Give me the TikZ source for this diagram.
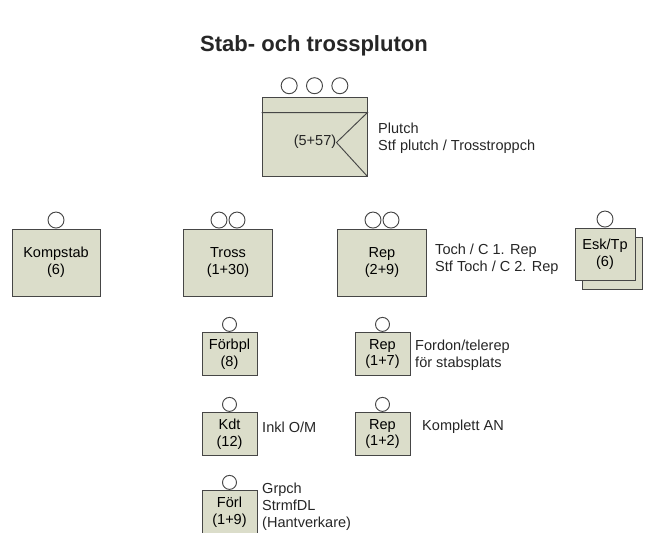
\documentclass[tikz,border=0pt]{standalone}
\usepackage{fontspec}
\setmainfont{Liberation Sans}
\usepackage{xcolor}
\usepackage{tikz}
\usetikzlibrary{positioning, calc}
\definecolor{unitfill}{RGB}{219,221,202}
\definecolor{unitline}{RGB}{70,70,70}

\begin{document}
\begin{tikzpicture}[
  x=0.03cm, y=-0.03cm,
  unit/.style={rectangle, draw=unitline, line width=0.8pt, fill=unitfill,
               minimum width=2.67cm, minimum height=2.01cm,
               font=\fontsize{12.4}{14.5}\selectfont, align=center, inner sep=2pt},
  small/.style={unit, minimum width=1.65cm, minimum height=1.3cm},
  ring/.style={circle, draw=unitline, line width=0.8pt, fill=white,
               minimum size=0.48cm, inner sep=0pt},
  sring/.style={ring, minimum size=0.42cm},
  note/.style={anchor=west, align=left, inner sep=0pt,
               font=\fontsize{12.4}{14.5}\selectfont, text=black!85},
]
\useasboundingbox (0,0) rectangle (649,532);

\node[font=\fontsize{18.8}{22}\selectfont\bfseries, text=black!85] (title) at (314,46)
  {Stab- och trosspluton};

% --- Plutch ---
\node[unit, minimum width=3.15cm, minimum height=2.37cm] (plutch) at (314.5,136.5) {};
\draw[unitline, line width=0.8pt] ($(plutch.north west)+(0,16)$) -- ($(plutch.north east)+(0,16)$)
  -- ($(plutch.east)+(-31,6)$) -- (plutch.south east);
\node[font=\fontsize{12.4}{14.5}\selectfont, text=black!85] (plutchnum) at (315,142) {(5+57)};
\node[ring, above=2pt of plutch, xshift=-0.76cm] (plutchc1) {};
\node[ring, above=2pt of plutch, xshift=0cm] (plutchc2) {};
\node[ring, above=2pt of plutch, xshift=0.76cm] (plutchc3) {};
\node[note] (plutchtxt) at (378,138.5) {Plutch\\Stf plutch / Trosstroppch};

% --- Kompstab / Tross / Rep / Esk ---
\node[unit, minimum width=2.64cm] (kompstab) at (56,262.5) {Kompstab\\(6)};
\node[ring, above=0pt of kompstab] (kompstabc) {};

\node[unit] (tross) at (228,262.5) {Tross\\(1+30)};
\node[ring, above=0pt of tross, xshift=-0.27cm] (trossc1) {};
\node[ring, above=0pt of tross, xshift=0.27cm] (trossc2) {};

\node[unit] (rep) at (382,262.5) {Rep\\(2+9)};
\node[ring, above=0pt of rep, xshift=-0.27cm] (repc1) {};
\node[ring, above=0pt of rep, xshift=0.27cm] (repc2) {};
\node[note] (reptxt) at (435,259.5) {Toch / C 1. Rep\\Stf Toch / C 2. Rep};

\node[unit, minimum width=1.8cm, minimum height=1.56cm] (eskback) at (612,263) {};
\node[unit, minimum width=1.8cm, minimum height=1.56cm] (esk) at (605,254) {Esk/Tp\\(6)};
\node[ring, above=0pt of esk] (eskc) {};

% --- Tross, delar ---
\node[small] (forbpl) at (229.5,354) {Förbpl\\(8)};
\node[sring, above=0pt of forbpl] (forbplc) {};

\node[small] (kdt) at (229.5,434) {Kdt\\(12)};
\node[sring, above=0pt of kdt] (kdtc) {};
\node[note] (kdttxt) at (262,427) {Inkl O/M};

\node[small] (forl) at (229.5,512) {Förl\\(1+9)};
\node[sring, above=0pt of forl] (forlc) {};
\node[note, anchor=north west] (forltxt) at (262,483) {Grpch\\StrmfDL\\(Hantverkare)};

% --- Rep, delar ---
\node[small] (repfordon) at (382.5,354) {Rep\\(1+7)};
\node[sring, above=0pt of repfordon] (repfordonc) {};
\node[note] (repfordontxt) at (415,355) {Fordon/telerep\\för stabsplats};

\node[small] (repan) at (382.5,434) {Rep\\(1+2)};
\node[sring, above=0pt of repan] (repanc) {};
\node[note] (repantxt) at (422,427) {Komplett AN};
\end{tikzpicture}
\end{document}
